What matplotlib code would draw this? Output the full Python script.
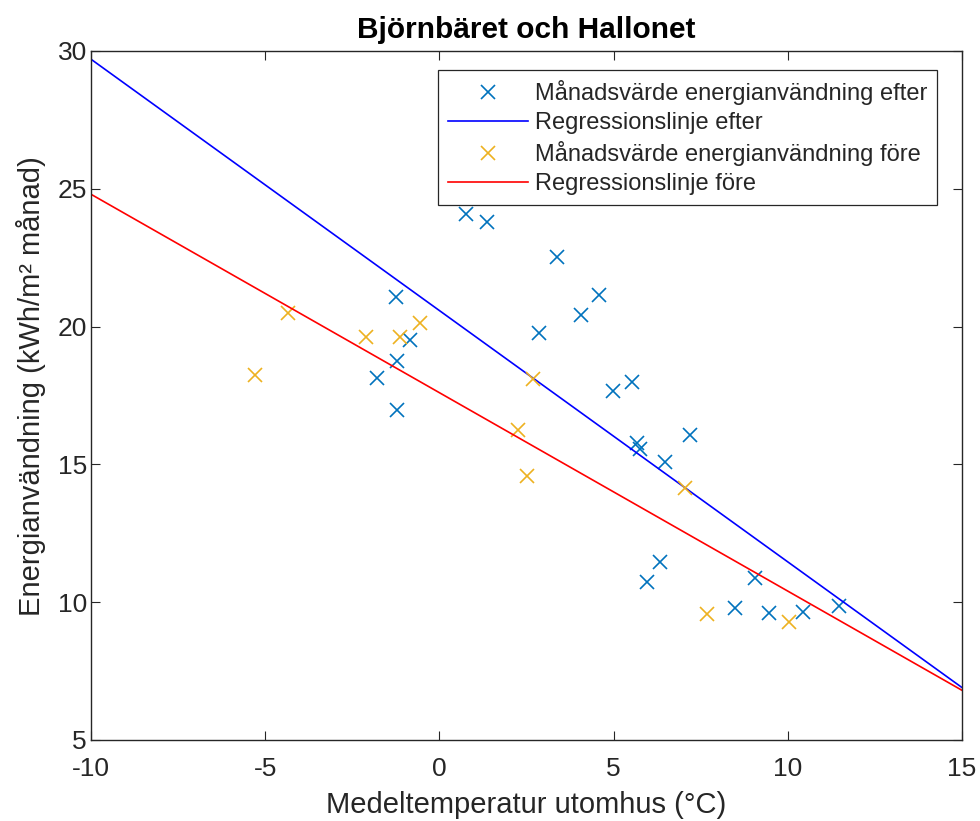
import matplotlib

matplotlib.use("Agg")

import matplotlib.pyplot as plt
import numpy as np

plt.rcParams["font.family"] = ["Liberation Sans", "DejaVu Sans"]
plt.rcParams["axes.unicode_minus"] = False

# Monthly averages after the renovation
temp_efter = [0.76, 1.37, 3.38, 4.58, 4.06, 2.86, 4.98, 5.53, 7.19, 5.67, 5.76, 6.47,
              6.33, 5.96, 9.06, 8.48, 9.46, 10.44, 11.47, -1.25, -0.84, -1.22, -1.79, -1.22]
energi_efter = [24.08, 23.79, 22.51, 21.13, 20.41, 19.75, 17.65, 18.00, 16.05, 15.79, 15.57, 15.10,
                11.47, 10.74, 10.89, 9.80, 9.62, 9.65, 9.87, 21.06, 19.50, 18.74, 18.15, 16.99]

# Monthly averages before the renovation
temp_fore = [-5.29, -4.35, -2.11, -1.13, -0.56, 2.69, 2.26, 2.51, 7.05, 7.68, 10.03]
energi_fore = [18.23, 20.48, 19.61, 19.61, 20.12, 18.08, 16.26, 14.59, 14.16, 9.58, 9.29]

# Regression coefficients (intercept, slope)
reg_efter = (20.58, -0.912)
reg_fore = (17.60, -0.720)

x_range = [-10, 15]
y_range = [5, 30]
x_ticks = [-10, -5, 0, 5, 10, 15]
y_ticks = [5, 10, 15, 20, 25, 30]

INK = "#262626"
BLUE_PTS = "#0072BD"
ORANGE_PTS = "#EDB120"

fig = plt.figure(figsize=(9.8, 8.21), dpi=100)
ax = fig.add_axes([0.0929, 0.0987, 0.8888, 0.8392])

xs = np.array(x_range, dtype=float)

ax.plot(temp_efter, energi_efter, linestyle="none", marker="x", markersize=10.5,
        markeredgewidth=1.2, color=BLUE_PTS, label="Månadsvärde energianvändning efter")
ax.plot(xs, reg_efter[0] + reg_efter[1] * xs, color="#0000FF", linewidth=1.2,
        label="Regressionslinje efter")
ax.plot(temp_fore, energi_fore, linestyle="none", marker="x", markersize=10.5,
        markeredgewidth=1.2, color=ORANGE_PTS, label="Månadsvärde energianvändning före")
ax.plot(xs, reg_fore[0] + reg_fore[1] * xs, color="#FF0000", linewidth=1.2,
        label="Regressionslinje före")

ax.set_xlim(x_range)
ax.set_ylim(y_range)
ax.set_xticks(x_ticks)
ax.set_yticks(y_ticks)
ax.tick_params(direction="in", length=6.5, width=0.8, top=True, right=True,
               labelsize=19, colors=INK)
ax.tick_params(axis="x", pad=12.5)
ax.tick_params(axis="y", pad=3)
for spine in ax.spines.values():
    spine.set_color(INK)
    spine.set_linewidth(1.0)

ax.set_title("Björnbäret och Hallonet", fontsize=21.5, fontweight="bold", color="#000000", pad=9)
ax.set_xlabel("Medeltemperatur utomhus (°C)", fontsize=21, color=INK, labelpad=7)
ax.set_ylabel("Energianvändning (kWh/m² månad)", fontsize=21, color=INK, labelpad=8)
ax.yaxis.label.set_y(0.513)

leg = ax.legend(loc="upper right", bbox_to_anchor=(0.9713, 0.9717), borderaxespad=0,
                fontsize=17, handlelength=3.4, handletextpad=0.3, labelspacing=0.3,
                fancybox=False, framealpha=1, edgecolor=INK, borderpad=0.4)
leg.get_frame().set_linewidth(0.9)
for text in leg.get_texts():
    text.set_color(INK)

fig.savefig("out.png", dpi=100)
